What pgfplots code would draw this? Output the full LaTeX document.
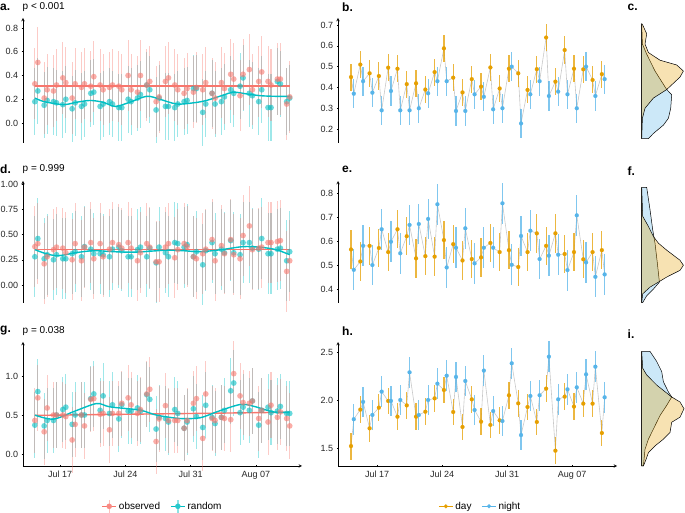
\documentclass[border=0pt]{standalone}
\usepackage{pgfplots}
\pgfplotsset{compat=1.18}
\usepackage{pgfplotstable}
\usepackage{fontspec}
\setmainfont{Liberation Sans}
\definecolor{obsred}{HTML}{F8766D}
\definecolor{rndteal}{HTML}{00BFC4}
\definecolor{dayor}{HTML}{E69F00}
\definecolor{nightbl}{HTML}{56B4E9}
\definecolor{connect}{HTML}{C8C8C8}

\pgfplotstableread{
x a1 a2 d1 d2 g1 g2
14.30 0.33 0.18 0.38 0.28 0.43 0.37
14.62 0.51 0.27 0.41 0.46 0.72 0.80
15.30 0.21 0.15 0.21 0.26 0.285 0.36
15.62 0.28 0.19 0.28 0.30 0.59 0.43
16.30 0.27 0.18 0.35 0.25 0.50 0.43
16.62 0.32 0.17 0.375 0.30 0.50 0.50
17.30 0.38 0.155 0.365 0.26 0.50 0.57
17.62 0.34 0.20 0.32 0.26 0.48 0.60
18.30 0.21 0.12 0.25 0.31 0.18 0.38
18.62 0.33 0.17 0.41 0.33 0.38 0.50
19.30 0.30 0.14 0.24 0.28 0.50 0.50
19.62 0.33 0.16 0.375 0.38 0.36 0.50
20.30 0.31 0.25 0.42 0.355 0.70 0.71
20.62 0.39 0.26 0.26 0.31 0.71 0.77
21.30 0.32 0.14 0.41 0.31 0.51 0.56
21.62 0.28 0.16 0.28 0.30 0.52 0.745
22.30 0.30 0.18 0.355 0.28 0.31 0.52
22.62 0.32 0.16 0.42 0.355 0.52 0.63
23.30 0.31 0.13 0.40 0.375 0.52 0.45
23.62 0.28 0.13 0.365 0.34 0.65 0.63
24.30 0.40 0.20 0.42 0.28 0.72 0.55
24.62 0.28 0.18 0.365 0.28 0.63 0.55
25.30 0.26 0.21 0.24 0.35 0.52 0.59
25.62 0.40 0.24 0.32 0.375 0.57 0.55
26.30 0.32 0.32 0.41 0.28 0.77 0.76
26.62 0.35 0.28 0.375 0.365 0.83 0.70
27.30 0.18 0.11 0.23 0.22 0.16 0.32
27.62 0.22 0.21 0.23 0.375 0.45 0.47
28.30 0.35 0.14 0.375 0.32 0.62 0.455
28.62 0.38 0.14 0.41 0.28 0.43 0.41
29.30 0.32 0.13 0.27 0.42 0.43 0.57
29.62 0.28 0.16 0.35 0.41 0.43 0.52
30.30 0.25 0.18 0.41 0.375 0.33 0.33
30.62 0.29 0.19 0.38 0.40 0.43 0.41
31.30 0.26 0.29 0.28 0.28 0.65 0.58
31.62 0.30 0.29 0.26 0.33 0.71 0.48
32.30 0.28 0.09 0.31 0.20 0.20 0.34
32.62 0.34 0.16 0.355 0.34 0.77 0.625
33.30 0.25 0.25 0.45 0.42 0.455 0.47
33.62 0.21 0.16 0.24 0.31 0.43 0.39
34.30 0.34 0.18 0.39 0.355 0.47 0.47
34.62 0.29 0.22 0.31 0.32 0.455 0.56
35.30 0.41 0.28 0.45 0.44 0.44 0.81
35.62 0.37 0.25 0.30 0.32 1.03 0.91
36.30 0.23 0.31 0.26 0.30 0.745 0.53
36.62 0.41 0.38 0.49 0.42 0.66 0.60
37.30 0.45 0.25 0.585 0.42 0.65 0.56
37.62 0.28 0.23 0.35 0.365 0.68 0.68
38.30 0.35 0.18 0.365 0.355 0.455 0.37
38.62 0.43 0.28 0.375 0.46 0.56 0.56
39.30 0.35 0.13 0.42 0.31 0.41 0.60
39.62 0.32 0.13 0.42 0.31 0.625 0.53
40.30 0.37 0.35 0.43 0.355 0.47 0.55
40.62 0.37 0.33 0.44 0.365 0.54 0.61
41.30 0.16 0.18 0.135 0.24 0.455 0.52
41.62 0.22 0.21 0.24 0.33 0.36 0.52
}\lefttab

\pgfplotstableread{
x t b e h
14.2 0 0.45 0.565 1.52
14.5 1 0.37 0.48 1.80
15.2 0 0.51 0.515 1.90
15.5 1 0.43 0.58 1.98
16.2 0 0.468 0.58 1.705
16.5 1 0.375 0.50 1.844
17.2 0 0.455 0.571 1.92
17.5 1 0.29 0.649 2.087
18.2 0 0.495 0.554 1.99
18.5 1 0.383 0.597 1.99
19.2 0 0.49 0.649 1.826
19.5 1 0.29 0.549 2.0
20.2 0 0.416 0.62 1.944
20.5 1 0.29 0.667 2.288
21.2 0 0.42 0.528 1.826
21.5 1 0.30 0.671 1.844
22.2 0 0.39 0.537 1.878
22.5 1 0.372 0.692 2.0
23.2 0 0.474 0.535 2.017
23.5 1 0.43 0.753 2.17
24.2 0 0.588 0.604 2.104
24.5 1 0.43 0.49 2.253
25.2 0 0.447 0.587 1.875
25.5 1 0.287 0.572 2.24
26.2 0 0.376 0.519 1.719
26.5 1 0.287 0.653 2.198
27.2 0 0.44 0.525 2.007
27.5 1 0.367 0.507 1.896
28.2 0 0.404 0.532 1.774
28.5 1 0.355 0.572 2.306
29.2 0 0.496 0.592 1.74
29.5 1 0.295 0.572 1.885
30.2 0 0.395 0.554 1.788
30.5 1 0.30 0.757 1.781
31.2 0 0.49 0.562 2.049
31.5 1 0.50 0.501 2.382
32.2 0 0.468 0.492 1.965
32.5 1 0.227 0.621 1.635
33.2 0 0.388 0.554 1.927
33.5 1 0.367 0.643 2.042
34.2 0 0.488 0.632 1.771
34.5 1 0.43 0.525 2.049
35.2 0 0.64 0.58 2.118
35.5 1 0.359 0.539 2.451
36.2 0 0.428 0.632 1.472
36.5 1 0.38 0.543 2.007
37.2 0 0.58 0.546 2.035
37.5 1 0.367 0.479 2.111
38.2 0 0.49 0.554 1.931
38.5 1 0.30 0.707 2.132
39.2 0 0.487 0.524 1.962
39.5 1 0.50 0.511 2.267
40.2 0 0.436 0.554 1.962
40.5 1 0.359 0.451 2.347
41.2 0 0.464 0.562 1.656
41.5 1 0.44 0.461 2.028
}\midtab

\pgfplotsset{
  base/.style={scale only axis, width=279pt, clip=false,
    axis line style={-, black, line width=0.5pt},
    tick align=outside, major tick length=2.5pt,
    tick style={black, line width=0.5pt},
    ticklabel style={font=\fontsize{9}{10}\selectfont, text=black!85},
    ytick pos=left},
  toprow/.style={base, axis x line=none, axis y line=left, xtick=\empty},
  botrow/.style={base, axis lines=left, xtick pos=bottom,
    xtick={17,24,31,38}, xticklabels={Jul 17,Jul 24,Jul 31,Aug 07}},
  lefts/.style={xmin=13.03, xmax=42.94},
  mids/.style={xmin=12.80, xmax=42.83},
  dens/.style={scale only axis, hide axis, width=43.3pt, xmin=0, xmax=43.3, clip=false},
  ebar/.style 2 args={draw=none, mark=none, forget plot,
    error bars/y dir=both, error bars/y fixed=#2, error bars/error mark=none,
    error bars/error bar style={line width=1.1pt, draw=#1, draw opacity=0.38}},
  pts/.style={only marks, mark=*, mark size=2.9pt, forget plot,
    mark options={draw=#1, draw opacity=0, line width=0pt, fill=#1, fill opacity=0.6}},
  mpts/.style={only marks, mark=*, mark size=2pt, forget plot,
    mark options={draw=#1, line width=0.1pt, fill=#1}},
  mbar/.style 2 args={draw=none, mark=none, forget plot,
    error bars/y dir=both, error bars/y fixed=#2, error bars/error mark=none,
    error bars/error bar style={line width=1.2pt, draw=#1, draw opacity=0.75}},
  dayonly/.style={restrict expr to domain={\thisrow{t}}{0:0}},
  nightonly/.style={restrict expr to domain={\thisrow{t}}{1:1}},
  dfill/.style={fill=#1, fill opacity=0.3, draw=black, line width=0.5pt, forget plot},
}

\begin{document}
\begin{tikzpicture}
\path[use as bounding box] (0,0) rectangle (685pt,513pt);

% ---------- panel labels ----------
\node[anchor=west, inner sep=0pt, font=\fontsize{12}{14}\selectfont\bfseries] at (0pt,505.5pt) {a.};
\node[anchor=west, inner sep=0pt, font=\fontsize{10}{12}\selectfont] at (22.5pt,505.5pt) {p < 0.001};
\node[anchor=west, inner sep=0pt, font=\fontsize{12}{14}\selectfont\bfseries] at (342pt,505.5pt) {b.};
\node[anchor=west, inner sep=0pt, font=\fontsize{12}{14}\selectfont\bfseries] at (627.5pt,505.5pt) {c.};
\node[anchor=west, inner sep=0pt, font=\fontsize{12}{14}\selectfont\bfseries] at (0pt,344pt) {d.};
\node[anchor=west, inner sep=0pt, font=\fontsize{10}{12}\selectfont] at (22.5pt,344pt) {p = 0.999};
\node[anchor=west, inner sep=0pt, font=\fontsize{12}{14}\selectfont\bfseries] at (342pt,344pt) {e.};
\node[anchor=west, inner sep=0pt, font=\fontsize{12}{14}\selectfont\bfseries] at (627.5pt,342pt) {f.};
\node[anchor=west, inner sep=0pt, font=\fontsize{12}{14}\selectfont\bfseries] at (0pt,182pt) {g.};
\node[anchor=west, inner sep=0pt, font=\fontsize{10}{12}\selectfont] at (22.5pt,182pt) {p = 0.038};
\node[anchor=west, inner sep=0pt, font=\fontsize{12}{14}\selectfont\bfseries] at (342pt,182pt) {h.};
\node[anchor=west, inner sep=0pt, font=\fontsize{12}{14}\selectfont\bfseries] at (627.5pt,179pt) {i.};

% ---------- a ----------
\begin{axis}[toprow, lefts, height=125pt, at={(23pt,370pt)}, anchor=south west,
  ymin=-0.168, ymax=0.884, ytick={0,0.2,0.4,0.6,0.8}, yticklabels={0.0,0.2,0.4,0.6,0.8}]
\addplot[ebar={rndteal}{0.28}] table[x=x,y=a2]{\lefttab};
\addplot[ebar={obsred}{0.30}] table[x=x,y=a1]{\lefttab};
\addplot[pts=rndteal] table[x=x,y=a2]{\lefttab};
\addplot[pts=obsred] table[x=x,y=a1]{\lefttab};
\addplot[obsred, line width=1.4pt, forget plot] coordinates {(14.3,0.31) (41.62,0.31)};
\addplot[rndteal, line width=1.4pt, smooth, forget plot] coordinates {
 (14.32,0.21) (15.3,0.18) (17.36,0.155) (18.8,0.175) (20.22,0.19) (21.6,0.175)
 (22.9,0.14) (24.3,0.17) (26.3,0.225) (27.7,0.2) (29.5,0.16) (31.3,0.17)
 (32.7,0.19) (34.5,0.235) (35.6,0.26) (37.0,0.245) (38.5,0.23) (40,0.225) (41.62,0.225)};
\end{axis}

% ---------- d ----------
\begin{axis}[toprow, lefts, height=122pt, at={(23pt,210pt)}, anchor=south west,
  ymin=-0.178, ymax=1.03, ytick={0,0.25,0.5,0.75,1}, yticklabels={0.00,0.25,0.50,0.75,1.00}]
\addplot[ebar={rndteal}{0.40}] table[x=x,y=d2]{\lefttab};
\addplot[ebar={obsred}{0.40}] table[x=x,y=d1]{\lefttab};
\addplot[pts=rndteal] table[x=x,y=d2]{\lefttab};
\addplot[pts=obsred] table[x=x,y=d1]{\lefttab};
\addplot[obsred, line width=1.4pt, forget plot] coordinates {(14.3,0.35) (41.62,0.35)};
\addplot[rndteal, line width=1.4pt, smooth, forget plot] coordinates {
 (14.32,0.35) (15.5,0.31) (16.8,0.29) (18.7,0.32) (20.6,0.34) (22.7,0.33)
 (24.9,0.325) (26.7,0.335) (28.4,0.345) (30.2,0.34) (32.0,0.33) (34.3,0.35)
 (36.6,0.38) (38.4,0.375) (39.9,0.355) (40.8,0.33) (41.62,0.30)};
\end{axis}

% ---------- g ----------
\begin{axis}[botrow, lefts, height=124pt, at={(23pt,47pt)}, anchor=south west,
  ymin=-0.154, ymax=1.436, ytick={0,0.5,1}, yticklabels={0.0,0.5,1.0},
  legend style={at={(0.5,-0.325)}, anchor=center, draw=none, fill=none,
    legend columns=2, font=\fontsize{10}{12}\selectfont,
    /tikz/every even column/.append style={column sep=8pt}}]
\addplot[ebar={rndteal}{0.42}] table[x=x,y=g2]{\lefttab};
\addplot[ebar={obsred}{0.42}] table[x=x,y=g1]{\lefttab};
\addplot[pts=rndteal] table[x=x,y=g2]{\lefttab};
\addplot[pts=obsred] table[x=x,y=g1]{\lefttab};
\addplot[obsred, line width=1.4pt, forget plot] coordinates {(14.3,0.495) (41.62,0.535)};
\addplot[rndteal, line width=1.4pt, smooth, forget plot] coordinates {
 (14.32,0.498) (16.29,0.447) (18.6,0.55) (20.93,0.647) (22.36,0.604) (25.57,0.562)
 (27.36,0.498) (29.86,0.455) (32.0,0.464) (33.79,0.54) (36.29,0.634) (37.72,0.613)
 (39.86,0.54) (41.62,0.536)};
\addlegendimage{legend image code/.code={
  \draw[obsred!45, line width=1.3pt] (0.25cm,-0.22cm) -- (0.25cm,0.22cm);
  \draw[obsred, line width=1.3pt] (0cm,0cm) -- (0.5cm,0cm);
  \fill[obsred!85] (0.25cm,0cm) circle (2.5pt);}}
\addlegendentry{observed}
\addlegendimage{legend image code/.code={
  \draw[rndteal!45, line width=1.3pt] (0.25cm,-0.22cm) -- (0.25cm,0.22cm);
  \draw[rndteal, line width=1.3pt] (0cm,0cm) -- (0.5cm,0cm);
  \fill[rndteal!85] (0.25cm,0cm) circle (2.5pt);}}
\addlegendentry{random}
\end{axis}

% ---------- b ----------
\begin{axis}[toprow, mids, height=125pt, at={(338pt,370pt)}, anchor=south west,
  ymin=0.133, ymax=0.734, ytick={0.2,0.3,0.4,0.5,0.6,0.7}, yticklabels={0.2,0.3,0.4,0.5,0.6,0.7}]
\addplot[connect, line width=0.6pt, forget plot] table[x=x,y=b]{\midtab};
\addplot[mbar={dayor}{0.065}, dayonly] table[x=x,y=b]{\midtab};
\addplot[mbar={nightbl}{0.07}, nightonly] table[x=x,y=b]{\midtab};
\addplot[mpts=dayor, dayonly] table[x=x,y=b]{\midtab};
\addplot[mpts=nightbl, nightonly] table[x=x,y=b]{\midtab};
\end{axis}

% ---------- e ----------
\begin{axis}[toprow, mids, height=122pt, at={(338pt,210pt)}, anchor=south west,
  ymin=0.342, ymax=0.85, ytick={0.4,0.5,0.6,0.7,0.8}, yticklabels={0.4,0.5,0.6,0.7,0.8}]
\addplot[connect, line width=0.6pt, forget plot] table[x=x,y=e]{\midtab};
\addplot[mbar={dayor}{0.08}, dayonly] table[x=x,y=e]{\midtab};
\addplot[mbar={nightbl}{0.085}, nightonly] table[x=x,y=e]{\midtab};
\addplot[mpts=dayor, dayonly] table[x=x,y=e]{\midtab};
\addplot[mpts=nightbl, nightonly] table[x=x,y=e]{\midtab};
\end{axis}

% ---------- h ----------
\begin{axis}[botrow, mids, height=124pt, at={(338pt,47pt)}, anchor=south west,
  ymin=1.3125, ymax=2.604, ytick={1.5,2,2.5}, yticklabels={1.5,2.0,2.5},
  legend style={at={(0.51,-0.325)}, anchor=center, draw=none, fill=none,
    legend columns=2, font=\fontsize{10}{12}\selectfont,
    /tikz/every even column/.append style={column sep=8pt}}]
\addplot[connect, line width=0.6pt, forget plot] table[x=x,y=h]{\midtab};
\addplot[mbar={dayor}{0.14}, dayonly] table[x=x,y=h]{\midtab};
\addplot[mbar={nightbl}{0.16}, nightonly] table[x=x,y=h]{\midtab};
\addplot[mpts=dayor, dayonly] table[x=x,y=h]{\midtab};
\addplot[mpts=nightbl, nightonly] table[x=x,y=h]{\midtab};
\addlegendimage{legend image code/.code={
  \draw[dayor, line width=0.8pt] (0cm,0cm) -- (0.5cm,0cm);
  \fill[dayor] (0.25cm,0cm) circle (1.8pt);}}
\addlegendentry{day}
\addlegendimage{legend image code/.code={
  \draw[nightbl, line width=0.8pt] (0cm,0cm) -- (0.5cm,0cm);
  \fill[nightbl] (0.25cm,0cm) circle (1.8pt);}}
\addlegendentry{night}
\end{axis}

% ---------- c ----------
\begin{axis}[dens, height=125pt, at={(641.7pt,370pt)}, anchor=south west, ymin=0.133, ymax=0.734]
\addplot[dfill=nightbl] coordinates {(0,0.707) (0.7,0.609) (5,0.56) (13.3,0.479) (25,0.39) (30,0.365)
 (29,0.30) (26.7,0.252) (21.7,0.219) (11.7,0.179) (6.7,0.154) (0,0.154) (0,0.707)};
\addplot[dfill=dayor] coordinates {(0,0.707) (1,0.70) (5,0.658) (3.3,0.609) (6.7,0.568) (18.3,0.531)
 (35,0.508) (41.7,0.479) (38.3,0.45) (25,0.39) (11.7,0.349) (3.3,0.30) (0.7,0.252) (0,0.154) (0,0.707)};
\end{axis}

% ---------- f ----------
\begin{axis}[dens, height=122pt, at={(641.7pt,210pt)}, anchor=south west, ymin=0.342, ymax=0.85]
\addplot[dfill=nightbl] coordinates {(0,0.823) (5,0.823) (8.3,0.731) (11,0.647) (13.3,0.591) (15.7,0.506)
 (17.7,0.429) (11.7,0.40) (5,0.372) (1,0.344) (0,0.344) (0,0.823)};
\addplot[dfill=dayor] coordinates {(0,0.823) (1,0.703) (6.7,0.661) (11.7,0.619) (16.7,0.591) (25,0.562)
 (38.3,0.52) (41.7,0.499) (38.3,0.478) (25,0.45) (16.7,0.429) (8.3,0.408) (1,0.38) (0,0.344) (0,0.823)};
\end{axis}

% ---------- i ----------
\begin{axis}[dens, height=124pt, at={(641.7pt,47pt)}, anchor=south west, ymin=1.3125, ymax=2.604]
\addplot[dfill=nightbl] coordinates {(0,2.506) (8.3,2.506) (15,2.401) (20,2.296) (21.7,2.19) (26.7,2.084)
 (30,2.031) (25,1.944) (18.3,1.838) (11.7,1.697) (6.7,1.592) (3.3,1.486) (1.7,1.3125) (0,1.3125) (0,2.506)};
\addplot[dfill=dayor] coordinates {(0,2.506) (1,2.331) (5,2.26) (15,2.155) (30,2.031) (38.3,1.979)
 (42.3,1.909) (38.3,1.821) (30,1.768) (28.3,1.662) (21.7,1.592) (13.3,1.522) (6.7,1.451) (4.3,1.38)
 (1.7,1.3125) (0,1.3125) (0,2.506)};
\end{axis}
\end{tikzpicture}
\end{document}
